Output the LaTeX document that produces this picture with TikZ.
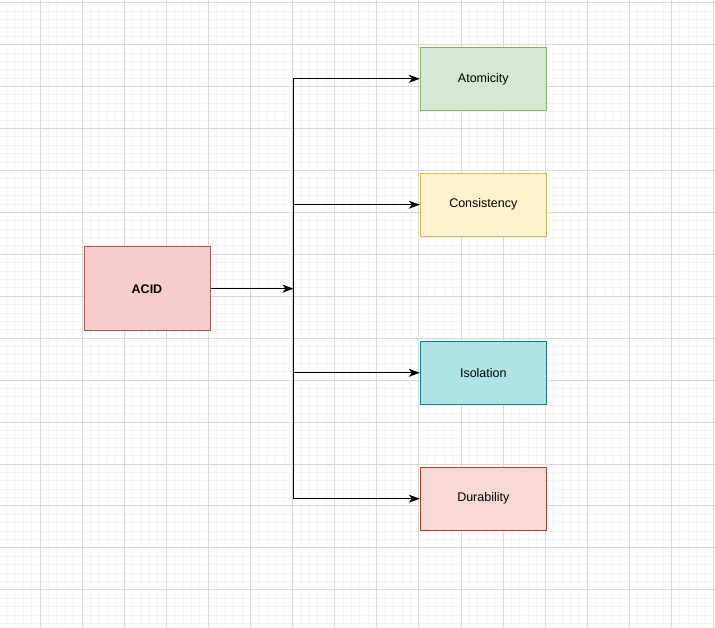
\documentclass[tikz,border=0pt]{standalone}
\usepackage{fontspec}
\setmainfont{Liberation Sans}
\usetikzlibrary{arrows.meta}

\begin{document}
\begin{tikzpicture}[x=1pt, y=-1pt,
    box/.style={draw, line width=1pt, minimum width=126pt, minimum height=63pt,
        inner sep=0pt, font=\fontsize{12.5}{15}\selectfont},
    link/.style={line width=1pt, -{Stealth[length=11pt, width=8pt, inset=3pt]}}]
    % Define colours
    \definecolor{minorGrid}{HTML}{F3F3F3}
    \definecolor{majorGrid}{HTML}{D9D9D9}
    \definecolor{acidFill}{HTML}{F8CECC}
    \definecolor{acidBorder}{HTML}{B85450}
    \definecolor{atomFill}{HTML}{D5E8D4}
    \definecolor{atomBorder}{HTML}{82B366}
    \definecolor{consFill}{HTML}{FFF2CC}
    \definecolor{consBorder}{HTML}{D6B656}
    \definecolor{isoFill}{HTML}{B0E3E6}
    \definecolor{isoBorder}{HTML}{0E8088}
    \definecolor{durFill}{HTML}{FAD9D5}
    \definecolor{durBorder}{HTML}{AE4132}

    % Define grid spacing
    \def\gridX{8.42}
    \def\gridY{8.388}

    % Fix picture size
    \useasboundingbox[fill=white] (0,0) rectangle (715,628);

    % Draw minor grid
    \foreach \i in {0,...,86}
        \draw[minorGrid, line width=1pt] ({-2.1+\i*\gridX},0) -- ++(0,628);
    \foreach \j in {0,...,75}
        \draw[minorGrid, line width=1pt] (0,{2.7+\j*\gridY}) -- ++(715,0);

    % Draw major grid
    \foreach \i in {0,...,17}
        \draw[majorGrid, line width=1pt] ({-2.1+\i*5*\gridX},0) -- ++(0,628);
    \foreach \j in {0,...,15}
        \draw[majorGrid, line width=1pt] (0,{2.7+\j*5*\gridY}) -- ++(715,0);

    % Draw the boxes
    \node[box, fill=acidFill, draw=acidBorder, minimum height=83.5pt,
        font=\fontsize{12.5}{15}\selectfont\bfseries] (acid) at (147,288.7) {ACID};
    \node[box, fill=atomFill, draw=atomBorder] (atom) at (483.3,78.8) {Atomicity};
    \node[box, fill=consFill, draw=consBorder] (cons) at (483.3,204.7) {Consistency};
    \node[box, fill=isoFill, draw=isoBorder] (iso) at (483.3,372.8) {Isolation};
    \node[box, fill=durFill, draw=durBorder] (dur) at (483.3,498.7) {Durability};

    % Junction on the trunk line
    \coordinate (hub) at (293.5,288.7);

    % Draw the connectors
    \draw[link] (acid) -- (hub);
    \draw[link] (hub) |- (atom);
    \draw[link] (hub) |- (cons);
    \draw[link] (hub) |- (iso);
    \draw[link] (hub) |- (dur);

\end{tikzpicture}
\end{document}
